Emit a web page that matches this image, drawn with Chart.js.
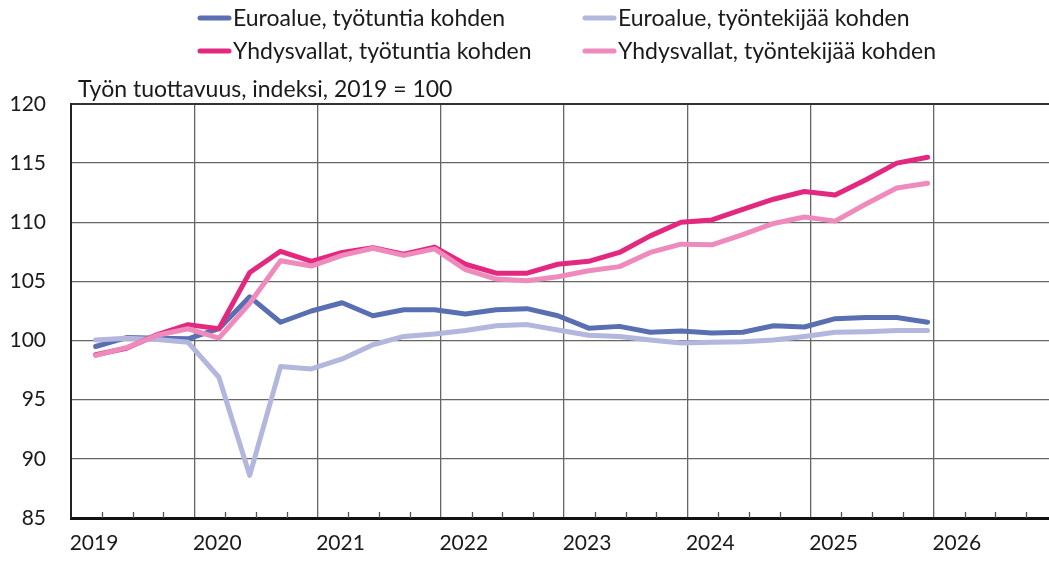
<!DOCTYPE html>
<html><head><meta charset="utf-8">
<script src="https://cdn.jsdelivr.net/npm/chart.js@4"></script>
<style>
html,body{margin:0;padding:0;background:#fff;overflow:hidden;}
#wrap{position:relative;width:1049px;height:562px;overflow:hidden;}
canvas{display:block;}
</style></head><body>
<div id="wrap"><canvas id="c" width="1070" height="562" style="width:1070px;height:562px"></canvas></div>
<script>
const quarters = ['2019Q1','2019Q2','2019Q3','2019Q4','2020Q1','2020Q2','2020Q3','2020Q4',
  '2021Q1','2021Q2','2021Q3','2021Q4','2022Q1','2022Q2','2022Q3','2022Q4',
  '2023Q1','2023Q2','2023Q3','2023Q4','2024Q1','2024Q2','2024Q3','2024Q4',
  '2025Q1','2025Q2','2025Q3','2025Q4'];
const yearLabels = ['2019','2020','2021','2022','2023','2024','2025','2026'];
const yTicks = [85, 90, 95, 100, 105, 110, 115, 120];
const subtitle = 'Työn tuottavuus, indeksi, 2019 = 100';
const seriesNames = ['Euroalue, työtuntia kohden','Euroalue, työntekijää kohden',
  'Yhdysvallat, työtuntia kohden','Yhdysvallat, työntekijää kohden'];
const euroHours = [99.5,100.25,100.2,100.15,101.0,103.7,101.55,102.5,103.2,102.1,102.6,102.6,
  102.25,102.6,102.7,102.1,101.05,101.2,100.7,100.8,100.65,100.7,101.25,101.15,101.85,101.95,101.95,101.55];
const euroWorkers = [100.05,100.2,100.1,99.85,96.9,88.6,97.8,97.6,98.45,99.65,100.35,100.55,
  100.85,101.25,101.35,100.9,100.45,100.35,100.05,99.8,99.85,99.9,100.05,100.35,100.7,100.75,100.85,100.85];
const usHours = [98.8,99.35,100.5,101.35,101.0,105.75,107.55,106.7,107.45,107.85,107.3,107.9,
  106.45,105.7,105.7,106.45,106.7,107.45,108.85,110.0,110.2,111.1,111.95,112.6,112.3,113.6,115.0,115.5];
const usWorkers = [98.75,99.4,100.45,101.0,100.2,103.15,106.75,106.3,107.2,107.8,107.2,107.75,
  106.0,105.2,105.05,105.4,105.9,106.25,107.45,108.15,108.1,108.95,109.9,110.45,110.1,111.55,112.9,113.3];
const colors = ['#5A6FB2','#B3B6DD','#E2297F','#EF8ABC'];

const FONT = 'Lato, "Open Sans", sans-serif';
function qToX(q){ const y = +q.slice(0,4), n = +q.slice(5); return y + (n-1)*0.25 + 0.2; }
function pts(arr){ return arr.map((v,i)=>({x:qToX(quarters[i]), y:v})); }

const allSeries = [euroHours, euroWorkers, usHours, usWorkers];
const datasets = allSeries.map((arr,i)=>({
  label: seriesNames[i], data: pts(arr), borderColor: colors[i], backgroundColor: colors[i],
  borderWidth: 5, pointRadius: 0, tension: 0, order: 4 - i, fill: false,
  borderCapStyle: 'round', borderJoinStyle: 'round'
}));

const decor = {
  id: 'decor',
  afterDraw(chart){
    const ctx = chart.ctx, xs = chart.scales.x, area = chart.chartArea;
    ctx.save();
    // minor quarterly ticks
    ctx.strokeStyle = '#555'; ctx.lineWidth = 1.3;
    const y0 = +yearLabels[0], y1 = +yearLabels[yearLabels.length-1] + 1;
    for (let y = y0; y < y1; y++) {
      for (let k = 1; k < 4; k++) {
        const px = Math.round(xs.getPixelForValue(y + k*0.25)) + 0.5;
        ctx.beginPath(); ctx.moveTo(px, area.bottom); ctx.lineTo(px, area.bottom - 6); ctx.stroke();
      }
    }
    // subtitle
    ctx.fillStyle = '#1a1a1a'; ctx.font = '23px ' + FONT; ctx.textBaseline = 'alphabetic'; ctx.textAlign = 'left';
    ctx.fillText(subtitle, 78, 97);
    // legend
    const cols = [198, 583], rows = [18, 51];
    ctx.font = '23px ' + FONT; ctx.textBaseline = 'middle';
    chart.data.datasets.forEach((ds, i) => {
      const cx = cols[i % 2], cy = rows[Math.floor(i / 2)];
      ctx.strokeStyle = ds.borderColor; ctx.lineWidth = 5; ctx.lineCap = 'round';
      ctx.beginPath(); ctx.moveTo(cx + 2, cy); ctx.lineTo(cx + 31, cy); ctx.stroke();
      ctx.fillStyle = '#1a1a1a';
      ctx.fillText(ds.label, cx + 35, cy + 1);
    });
    ctx.restore();
  }
};

new Chart(document.getElementById('c'), {
  type: 'line',
  data: { datasets },
  plugins: [decor],
  options: {
    responsive: false, animation: false, devicePixelRatio: 1,
    layout: { padding: { top: 104, right: 3, bottom: 0, left: 0 } },
    plugins: { legend: { display: false }, tooltip: { enabled: false } },
    scales: {
      x: {
        type: 'linear', min: +yearLabels[0], max: +yearLabels[yearLabels.length-1] + 1,
        afterBuildTicks: s => { s.ticks = yearLabels.map(v => ({ value: +v })).concat([{ value: +yearLabels[yearLabels.length-1] + 1 }]); },
        afterFit: s => { s.height = 44; },
        grid: { color: '#666', lineWidth: 1.3, drawTicks: false },
        border: { display: true, color: '#111', width: 3 },
        ticks: {
          autoSkip: false, maxRotation: 0, labelOffset: 23, padding: 13,
          color: '#1a1a1a', font: { family: FONT, size: 21 },
          callback: v => yearLabels.includes(String(v)) ? String(v) : ''
        }
      },
      y: {
        min: yTicks[0], max: yTicks[yTicks.length-1],
        afterBuildTicks: s => { s.ticks = yTicks.map(v => ({ value: v })); },
        afterFit: s => { s.width = 71; },
        grid: { color: c => c.tick && c.tick.value === 120 ? '#333' : '#666',
                lineWidth: c => c.tick && c.tick.value === 120 ? 2 : 1.3, drawTicks: false },
        border: { display: true, color: '#222', width: 2 },
        ticks: { padding: 25, color: '#1a1a1a', font: { family: FONT, size: 21 } }
      }
    }
  }
});
</script>
</body></html>
